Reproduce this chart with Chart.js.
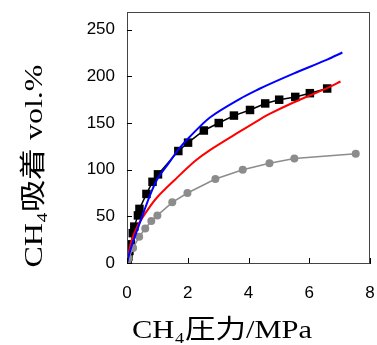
<!DOCTYPE html>
<html>
<head>
<meta charset="utf-8">
<script src="https://cdn.jsdelivr.net/npm/chart.js@4.4.0/dist/chart.umd.min.js"></script>
<style>
  body { margin: 0; background: #fff; }
</style>
</head>
<body>
<canvas id="adsChart" width="377" height="345"></canvas>
<script>
// measured (black squares)
const measX = [0.02, 0.05, 0.08, 0.13, 0.19, 0.24, 0.36, 0.41, 0.64, 0.84, 1.02, 1.69, 2.01, 2.53, 3.02, 3.52, 4.05, 4.55, 5.01, 5.54, 6.02, 6.59];
const measY = [2, 7, 13, 20, 32, 39, 51, 58, 74, 87, 95, 120, 129, 142, 150, 158, 164, 171, 175, 178, 182, 187];

// gray circles
const grayX = [0, 0.05, 0.2, 0.4, 0.6, 0.8, 1.0, 1.49, 1.99, 2.91, 3.81, 4.69, 5.51, 7.53];
const grayY = [0, 5, 16, 28, 37, 45, 51, 65, 75, 90, 100, 107, 112, 117];

// blue curve
const blueX = [0, 0.05, 0.15, 0.3, 0.5, 0.75, 1.0, 1.35, 1.73, 2.06, 2.73, 3.72, 4.38, 4.71, 5.48, 6.59, 7.09];
const blueY = [0, 7, 18, 32, 50, 72, 90, 106, 123, 135, 156, 176, 187, 192, 203, 218, 225.6];

// red curve
const redX = [0, 0.05, 0.15, 0.35, 0.68, 1.01, 1.57, 2.23, 2.73, 3.72, 4.38, 4.71, 5.48, 6.59, 7.03];
const redY = [0, 10, 24, 40, 57, 71, 89, 109, 121, 141, 154, 160, 172, 187.5, 194.5];

const xTicks = [0, 2, 4, 6, 8];
const yTicks = [0, 50, 100, 150, 200, 250];

const xTitle = "CH₄圧力/MPa";
const yTitle = "CH₄吸着 vol.%";

function pts(xs, ys) {
  return xs.map((x, i) => ({ x: x, y: ys[i] }));
}

// frame + inward tick marks
const framePlugin = {
  id: "frame",
  afterDraw(chart) {
    const ctx = chart.ctx;
    const a = chart.chartArea;
    const sx = chart.scales.x, sy = chart.scales.y;
    ctx.save();
    ctx.strokeStyle = "#444";
    ctx.lineWidth = 1;
    ctx.strokeRect(a.left + 0.5, a.top + 0.5, a.right - a.left - 1, a.bottom - a.top);
    ctx.strokeStyle = "#000";
    ctx.beginPath();
    xTicks.forEach(v => {
      const px = Math.round(sx.getPixelForValue(v)) + 0.5;
      ctx.moveTo(px, a.bottom);
      ctx.lineTo(px, a.bottom - 5);
    });
    yTicks.forEach(v => {
      const py = Math.round(sy.getPixelForValue(v)) + 0.5;
      ctx.moveTo(a.left, py);
      ctx.lineTo(a.left + 5, py);
    });
    ctx.stroke();
    ctx.restore();
  }
};

// axis titles, stretched like the original figure
function fitText(ctx, text, cx, cy, w, rot) {
  ctx.save();
  ctx.translate(cx, cy);
  if (rot) ctx.rotate(-Math.PI / 2);
  const m = ctx.measureText(text).width;
  ctx.scale(w / m, 1);
  ctx.fillText(text, 0, 0);
  ctx.restore();
}

const titlePlugin = {
  id: "titles",
  afterDraw(chart) {
    const ctx = chart.ctx;
    ctx.save();
    ctx.fillStyle = "#000";
    ctx.font = '26px "Liberation Serif", "Noto Sans CJK JP", serif';
    ctx.textAlign = "center";
    ctx.textBaseline = "middle";
    fitText(ctx, xTitle, 222, 331, 180, false);
    fitText(ctx, yTitle, 35, 166, 203, true);
    ctx.restore();
  }
};

function noPad(s) {
  s.paddingTop = 0;
  s.paddingBottom = 0;
  s.paddingLeft = 0;
  s.paddingRight = 0;
}

const tickFont = { family: '"Liberation Sans Narrow", "Liberation Sans", sans-serif', size: 17 };

new Chart(document.getElementById("adsChart"), {
  type: "scatter",
  data: {
    datasets: [
      {
        data: pts(blueX, blueY),
        showLine: true,
        borderColor: "#0000ff",
        borderWidth: 2,
        pointRadius: 0,
        tension: 0.3
      },
      {
        data: pts(redX, redY),
        showLine: true,
        borderColor: "#ff0000",
        borderWidth: 2,
        pointRadius: 0,
        tension: 0.3
      },
      {
        data: pts(grayX, grayY),
        showLine: true,
        borderColor: "#8c8c8c",
        borderWidth: 1.5,
        pointBackgroundColor: "#8c8c8c",
        pointBorderWidth: 0,
        pointRadius: 4
      },
      {
        data: pts(measX, measY),
        showLine: true,
        borderColor: "#000",
        borderWidth: 1.5,
        pointStyle: "rect",
        pointBackgroundColor: "#000",
        pointBorderWidth: 0,
        pointRadius: 6
      }
    ]
  },
  options: {
    responsive: false,
    devicePixelRatio: 1,
    animation: false,
    layout: { padding: { top: 12, right: 7, left: 0, bottom: 0 } },
    plugins: { legend: { display: false }, tooltip: { enabled: false } },
    scales: {
      x: {
        type: "linear",
        min: 0,
        max: 8,
        afterBuildTicks: s => { s.ticks = xTicks.map(v => ({ value: v })); },
        afterFit: s => { s.height = 82; noPad(s); },
        ticks: { font: tickFont, color: "#000", padding: 20, maxRotation: 0 },
        grid: { drawOnChartArea: false, drawTicks: false },
        border: { color: "#000", width: 1 }
      },
      y: {
        type: "linear",
        min: 0,
        max: 269,
        afterBuildTicks: s => { s.ticks = yTicks.map(v => ({ value: v })); },
        afterFit: s => { s.width = 127; noPad(s); },
        ticks: { font: tickFont, color: "#000", padding: 12 },
        grid: { drawOnChartArea: false, drawTicks: false },
        border: { color: "#000", width: 1 }
      }
    }
  },
  plugins: [framePlugin, titlePlugin]
});
</script>
</body>
</html>
